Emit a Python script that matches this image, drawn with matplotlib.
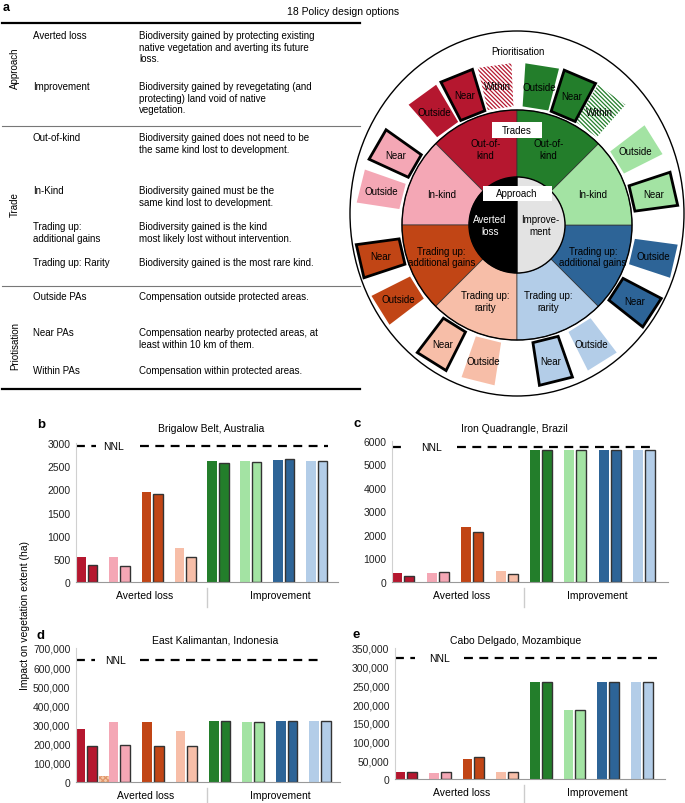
import matplotlib.pyplot as plt
import numpy as np
from matplotlib.patches import Wedge, Polygon, Ellipse, Rectangle, Circle
from matplotlib.ticker import FuncFormatter

plt.rcParams['font.family'] = ['Liberation Sans', 'DejaVu Sans']
plt.rcParams['hatch.linewidth'] = 0.9

W, H = 685, 804

RED = '#B5172F'
PINK = '#F4A7B5'
ORANGE = '#C14515'
SALMON = '#F7BEA8'
GREEN = '#237E2B'
LGREEN = '#A3E3A3'
BLUE = '#2D6497'
LBLUE = '#B3CDE8'
pair_colors = [RED, PINK, ORANGE, SALMON, GREEN, LGREEN, BLUE, LBLUE]

# table of policy options
table_rows = ['Averted loss', 'Improvement', 'Out-of-kind', 'In-Kind',
              'Trading up:\nadditional gains', 'Trading up: Rarity',
              'Outside PAs', 'Near PAs', 'Within PAs']
table_desc = ['Biodiversity gained by protecting existing\nnative vegetation and averting its future\nloss.',
              'Biodiversity gained by revegetating (and\nprotecting) land void of native\nvegetation.',
              'Biodiversity gained does not need to be\nthe same kind lost to development.',
              'Biodiversity gained must be the\nsame kind lost to development.',
              'Biodiversity gained is the kind\nmost likely lost without intervention.',
              'Biodiversity gained is the most rare kind.',
              'Compensation outside protected areas.',
              'Compensation nearby protected areas, at\nleast within 10 km of them.',
              'Compensation within protected areas.']
table_groups = ['Approach', 'Trade', 'Priotisation']

# wheel
trade_names = ['Out-of-\nkind', 'In-kind', 'Trading up:\nadditional gains', 'Trading up:\nrarity',
               'Trading up:\nrarity', 'Trading up:\nadditional gains', 'In-kind', 'Out-of-\nkind']
trade_colors = [RED, PINK, ORANGE, SALMON, LBLUE, BLUE, LGREEN, GREEN]
prio_angles = [98, 112, 126, 150, 166, 193, 212, 238, 256, 284, 302, 327, 347, 13, 32, 54, 67, 81]
prio_labels = ['Within', 'Near', 'Outside', 'Near', 'Outside', 'Near', 'Outside', 'Near', 'Outside',
               'Near', 'Outside', 'Near', 'Outside', 'Near', 'Outside', 'Within', 'Near', 'Outside']
prio_colors = [RED, RED, RED, PINK, PINK, ORANGE, ORANGE, SALMON, SALMON,
               LBLUE, LBLUE, BLUE, BLUE, LGREEN, LGREEN, GREEN, GREEN, GREEN]

# impact on vegetation extent (ha): left bar / outlined right bar of each pair
brig_left = [540, 547, 1942, 741, 2612, 2619, 2640, 2619]
brig_right = [374, 345, 1892, 540, 2576, 2597, 2647, 2612]
brig_nnl = 2928
iron_left = [369, 369, 2355, 454, 5610, 5610, 5610, 5610]
iron_right = [241, 440, 2128, 326, 5610, 5600, 5610, 5610]
iron_nnl = 5745
kal_left = [278600, 311600, 311600, 268000, 318600, 311600, 318600, 318600]
kal_right = [189800, 195000, 189800, 189800, 320300, 313400, 320300, 320300]
kal_within = 31300
kal_nnl = 639000
cabo_left = [17900, 17000, 52700, 18800, 259000, 184000, 259000, 259000]
cabo_right = [17900, 17900, 58000, 19700, 259000, 184900, 259000, 259000]
cabo_nnl = 323300

fig = plt.figure(figsize=(W / 100, H / 100), dpi=100)


def px_axes(l, t, r, b):
    return fig.add_axes([l / W, 1 - b / H, (r - l) / W, (b - t) / H])


# overlay in pixel coordinates for panel a table and labels
ov = fig.add_axes([0, 0, 1, 1])
ov.set_xlim(0, W)
ov.set_ylim(H, 0)
ov.axis('off')

ov.text(3, 8, 'a', fontsize=9, fontweight='bold', va='center')
ov.text(343, 12, '18 Policy design options', fontsize=7.5, ha='center', va='center')
ov.plot([2, 360], [24, 24], color='black', lw=1.6)
ov.plot([2, 360], [127, 127], color='#777777', lw=0.8)
ov.plot([2, 360], [287, 287], color='#777777', lw=0.8)
ov.plot([2, 360], [390, 390], color='black', lw=1.6)

row_y = [36, 87, 138, 191, 227, 263, 297, 333, 371]
for lab, desc, y in zip(table_rows, table_desc, row_y):
    ov.text(33, y - 5, lab, fontsize=7, va='top', linespacing=1.2)
    ov.text(139, y - 5, desc, fontsize=7, va='top', linespacing=1.2)
for g, y in zip(table_groups, [68, 205, 346]):
    ov.text(15, y, g, fontsize=7, rotation=90, ha='center', va='center')

ov.text(25, 616, 'Impact on vegetation extent (ha)', fontsize=7.5, rotation=90, ha='center', va='center')

# wheel
wax = px_axes(340, 25, 685, 405)
wax.set_xlim(-177, 168)
wax.set_ylim(-179, 201)
wax.axis('off')
wax.add_patch(Ellipse((0, 11.5), 334, 365, fill=False, ec='black', lw=1))
for i, (name, col) in enumerate(zip(trade_names, trade_colors)):
    a0 = 90 + 45 * i
    wax.add_patch(Wedge((0, 0), 115, a0, a0 + 45, width=67, fc=col, ec='#333333', lw=0.5))
    am = np.radians(a0 + 22.5)
    wax.text(82 * np.cos(am), 82 * np.sin(am), name, ha='center', va='center', fontsize=7,
             linespacing=1.2)
wax.add_patch(Circle((0, 0), 115, fill=False, ec='black', lw=1))
wax.add_patch(Wedge((0, 0), 48, 90, 270, fc='black', ec='black', lw=1))
wax.add_patch(Wedge((0, 0), 48, 270, 450, fc='#E3E3E3', ec='black', lw=1))
wax.text(-27, 0, 'Averted\nloss', color='white', ha='center', va='center', fontsize=7)
wax.text(23, 0, 'Improve-\nment', color='black', ha='center', va='center', fontsize=7)

for ang, lab, col in zip(prio_angles, prio_labels, prio_colors):
    a = np.radians(ang)
    u = np.array([np.cos(a), np.sin(a)])
    n = np.array([-np.sin(a), np.cos(a)])
    r0, r1, w0, w1 = 118, 161, 13, 17
    pts = [r0 * u - w0 * n, r1 * u - w1 * n, r1 * u + w1 * n, r0 * u + w0 * n]
    if lab == 'Near':
        wax.add_patch(Polygon(pts, closed=True, fc=col, ec='black', lw=2, joinstyle='miter'))
    elif lab == 'Within':
        wax.add_patch(Polygon(pts, closed=True, fc='white', ec=col, lw=0, hatch='\\\\\\\\\\\\\\\\'))
    else:
        wax.add_patch(Polygon(pts, closed=True, fc=col, ec='none'))
    wax.text(140 * u[0], 140 * u[1], lab, ha='center', va='center', fontsize=7)

wax.text(1, 174, 'Prioritisation', ha='center', va='center', fontsize=7)
wax.add_patch(Rectangle((-25, 87), 50, 16, fc='white', ec='none'))
wax.text(0, 95, 'Trades', ha='center', va='center', fontsize=7)
wax.add_patch(Rectangle((-34.5, 24), 69, 15, fc='white', ec='none'))
wax.text(0, 31.5, 'Approach', ha='center', va='center', fontsize=7)


def bar_panel(box, letter, letter_xy, title, title_xy, left_vals, right_vals, nnl, ymax, ystep,
              xlim, seg1, seg2, nnl_x, div_x, lab_x, comma=False):
    l, t, r, b = box
    ax = px_axes(l, t, r, b)
    x = np.arange(len(left_vals))
    ax.bar(x - 0.175, left_vals, 0.29, color=pair_colors, linewidth=0)
    ax.bar(x + 0.175, right_vals, 0.29, color=pair_colors, edgecolor='#333333', linewidth=1)
    ax.set_xlim(*xlim)
    ax.set_ylim(0, ymax)
    ax.set_yticks(np.arange(0, ymax + 1, ystep))
    if comma:
        ax.yaxis.set_major_formatter(FuncFormatter(lambda v, p: f'{int(v):,}'))
    ax.set_xticks([])
    ax.tick_params(axis='y', length=0, pad=4, labelsize=7.5, labelcolor='#222222')
    ax.spines[['top', 'right']].set_visible(False)
    ax.spines['left'].set_color('#d0d0d0')
    ax.spines['bottom'].set_color('#999999')
    for s in (seg1, seg2):
        ax.plot(s, [nnl, nnl], color='black', lw=1.6, dashes=(4, 2.9), clip_on=False)
    ax.text(nnl_x, nnl, 'NNL', ha='center', va='center', fontsize=7.5)
    hpx = b - t
    tr = ax.get_xaxis_transform()
    ax.plot([div_x, div_x], [-6 / hpx, -25 / hpx], color='#cccccc', lw=1, transform=tr, clip_on=False)
    ax.text(lab_x[0], -13 / hpx, 'Averted loss', ha='center', va='center', fontsize=7.5, transform=tr)
    ax.text(lab_x[1], -13 / hpx, 'Improvement', ha='center', va='center', fontsize=7.5, transform=tr)
    ov.text(*letter_xy, letter, fontsize=9.5, fontweight='bold', va='center')
    ov.text(*title_xy, title, fontsize=7.5, ha='center', va='center')
    return ax


bar_panel((76, 444, 338, 583), 'b', (37, 425), 'Brigalow Belt, Australia', (211, 429),
          brig_left, brig_right, brig_nnl, 3000, 500, (-0.32, 7.65),
          (-0.32, 0.29), (1.63, 7.35), 0.81, 3.65, (1.78, 5.88))
bar_panel((392, 442, 668, 583), 'c', (354, 424), 'Iron Quadrangle, Brazil', (514, 429),
          iron_left, iron_right, iron_nnl, 6000, 1000, (-0.33, 7.69),
          (-0.33, 0.04), (1.56, 7.31), 0.83, 3.5, (1.7, 5.63))
axd = bar_panel((76, 649, 340, 783), 'd', (37, 636), 'East Kalimantan, Indonesia', (215, 641),
                kal_left, kal_right, kal_nnl, 700000, 100000, (-0.3, 7.6),
                (-0.3, 0.27), (1.62, 7.08), 0.87, 3.62, (1.77, 5.8), comma=True)
axd.bar([0.53], [kal_within], 0.29, color='#F5C9A8', edgecolor='#E0956A', linewidth=0, hatch='xxxxxx')
bar_panel((395, 649, 665, 780), 'e', (353, 635), 'Cabo Delgado, Mozambique', (516, 641),
          cabo_left, cabo_right, cabo_nnl, 350000, 50000, (-0.33, 7.69),
          (-0.33, 0.27), (1.72, 7.48), 1.0, 3.5, (1.66, 5.67), comma=True)

fig.savefig('out.png', dpi=100)
